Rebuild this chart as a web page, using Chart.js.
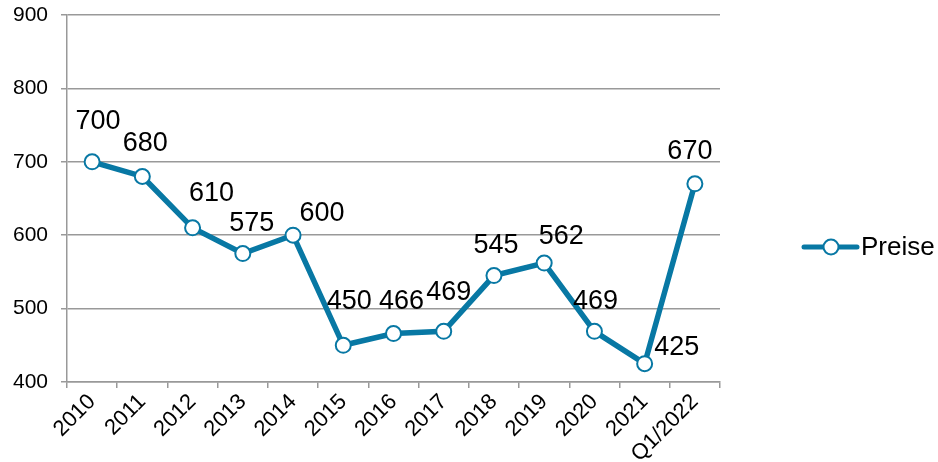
<!DOCTYPE html>
<html>
<head>
<meta charset="utf-8">
<script src="https://cdn.jsdelivr.net/npm/chart.js@4.4.1/dist/chart.umd.min.js"></script>
<style>
  html, body { margin: 0; padding: 0; background: #ffffff; }
  #wrap { width: 938px; height: 462px; }
</style>
</head>
<body>
<div id="wrap"><canvas id="chart" width="938" height="462"></canvas></div>
<script>
// Daten
const kategorien = ["2010", "2011", "2012", "2013", "2014", "2015", "2016", "2017", "2018", "2019", "2020", "2021", "Q1/2022"];
const preise = [700, 680, 610, 575, 600, 450, 466, 469, 545, 562, 469, 425, 670];
const serienName = "Preise";
const yTicks = [400, 500, 600, 700, 800, 900];

// Versatz der Wertbeschriftungen (Pixel relativ zum Punkt)
const labelVersatz = [
  [6, -40], [3, -33], [19, -34], [9, -30], [29, -22], [6, -44], [8, -32],
  [5, -39], [2, -30], [17, -27], [1, -30], [32, -16], [-5, -32]
];

const farbe = "#0878a4";
const grau = "#999999";
const schrift = "'Liberation Sans', Arial, sans-serif";

// Wertbeschriftungen + Legende mit Linie und Kreis
const wertePlugin = {
  id: "werte",
  afterDatasetsDraw(chart) {
    const ctx = chart.ctx;
    const meta = chart.getDatasetMeta(0);
    ctx.save();
    ctx.font = "27px " + schrift;
    ctx.fillStyle = "#000000";
    ctx.textAlign = "center";
    ctx.textBaseline = "middle";
    meta.data.forEach((pt, i) => {
      const v = labelVersatz[i] || [0, -32];
      ctx.fillText(String(chart.data.datasets[0].data[i]), pt.x + v[0], pt.y + v[1]);
    });
    ctx.restore();
  },
  afterDraw(chart) {
    const ctx = chart.ctx;
    const y = 247;
    ctx.save();
    ctx.strokeStyle = farbe;
    ctx.lineWidth = 5;
    ctx.lineCap = "round";
    ctx.beginPath();
    ctx.moveTo(804, y);
    ctx.lineTo(857, y);
    ctx.stroke();
    ctx.beginPath();
    ctx.arc(831, y, 7.5, 0, Math.PI * 2);
    ctx.fillStyle = "#ffffff";
    ctx.fill();
    ctx.lineWidth = 2;
    ctx.stroke();
    ctx.font = "26px " + schrift;
    ctx.fillStyle = "#000000";
    ctx.textAlign = "left";
    ctx.textBaseline = "middle";
    ctx.fillText(chart.data.datasets[0].label, 861, y + 1);
    ctx.restore();
  }
};

new Chart(document.getElementById("chart").getContext("2d"), {
  type: "line",
  data: {
    labels: kategorien,
    datasets: [{
      label: serienName,
      data: preise,
      borderColor: farbe,
      borderWidth: 5.5,
      tension: 0,
      fill: false,
      pointRadius: 7.5,
      pointBorderWidth: 2,
      pointBackgroundColor: "#ffffff",
      pointBorderColor: farbe
    }]
  },
  options: {
    responsive: false,
    animation: false,
    layout: { padding: { left: 0, top: 15, right: 218, bottom: 0 } },
    plugins: {
      legend: { display: false },
      tooltip: { enabled: false }
    },
    scales: {
      x: {
        offset: true,
        grid: {
          offset: true,
          drawOnChartArea: false,
          drawTicks: true,
          tickLength: 6,
          color: grau,
          lineWidth: 1.5
        },
        border: { display: true, color: grau, width: 1.5 },
        ticks: {
          color: "#000000",
          font: { family: schrift, size: 22 },
          maxRotation: 45,
          minRotation: 45,
          autoSkip: false,
          padding: 1
        },
        afterFit(scale) {
          scale.height = 80;
          scale.paddingLeft = 0;
          scale.paddingRight = 0;
        }
      },
      y: {
        min: 400,
        max: 900,
        afterBuildTicks(scale) { scale.ticks = yTicks.map(v => ({ value: v })); },
        grid: {
          color: grau,
          lineWidth: 1.5,
          drawTicks: true,
          tickLength: 6
        },
        border: { display: true, color: grau, width: 1.5 },
        ticks: {
          color: "#000000",
          font: { family: schrift, size: 21 },
          padding: 13
        },
        afterFit(scale) {
          scale.width = 67;
          scale.paddingTop = 0;
          scale.paddingBottom = 0;
        }
      }
    }
  },
  plugins: [wertePlugin]
});
</script>
</body>
</html>
